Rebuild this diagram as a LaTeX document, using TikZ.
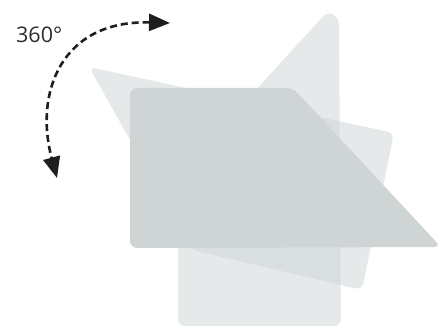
\documentclass[tikz,border=0pt]{standalone}
\usepackage{fontspec}
\newfontfamily\labelfont{Open Sans}
\usetikzlibrary{arrows.meta}
\definecolor{cardgrey}{RGB}{205,211,214}
\definecolor{frontgrey}{RGB}{207,212,213}
\definecolor{arrowgrey}{RGB}{30,30,30}
\definecolor{textgrey}{RGB}{45,45,45}
\tikzset{
  backcard/.style={fill=cardgrey, fill opacity=0.5, draw=none, rounded corners=7pt},
  frontcard/.style={fill=frontgrey, draw=none, rounded corners=7pt},
  turnarrow/.style={draw=arrowgrey, line width=2.6pt, dash pattern=on 7pt off 4pt,
    {Triangle[length=21pt,width=17pt]}-{Triangle[length=21pt,width=17pt]}},
  anglelabel/.style={font=\labelfont\fontsize{21.5}{24}\selectfont, text=textgrey, inner sep=0pt, anchor=base west}
}
\begin{document}
\begin{tikzpicture}[x=1pt,y=-1pt]
\useasboundingbox (0,0) rectangle (440,328);
% back card (tall, perspective)
\path[backcard] (328,11) -- (339,18) -- (341,326) -- (178,326) -- (178,175) -- cycle;
% tilted card
\path[backcard] (89,67) -- (394,133) -- (362,290) -- (192,250) -- cycle;
% front card
\path[frontcard] (130,88) -- (293,88) -- (441,247) -- (130,248) -- cycle;
% label
\node[anglelabel] (lbl) at (16,43) {360°};
% rotation arrow
\coordinate (ra) at (170,23);
\coordinate (rb) at (57,178);
\draw[turnarrow] (ra) .. controls (62,20) and (34,92) .. (rb);
\end{tikzpicture}
\end{document}
